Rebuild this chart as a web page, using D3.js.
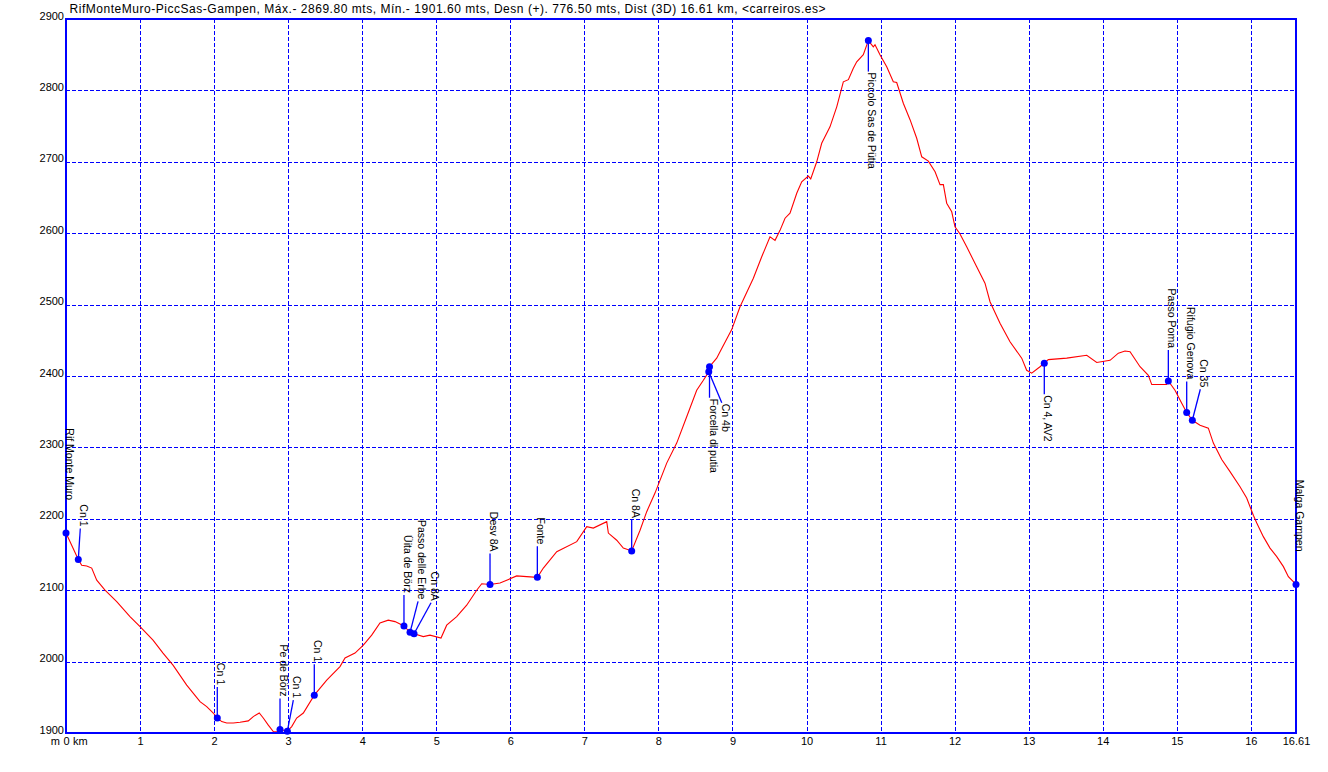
<!DOCTYPE html>
<html><head><meta charset="utf-8">
<script src="https://cdn.jsdelivr.net/npm/d3@7"></script>
<style>
body{margin:0;background:#fff}
svg{display:block}
text{font-family:"Liberation Sans",Arial,sans-serif;fill:#000}
</style>
</head><body>
<svg id="chart" width="1328" height="772"></svg>
<script>
// ---------------- DATA ----------------
const titleText = "RifMonteMuro-PiccSas-Gampen, Máx.- 2869.80 mts, Mín.- 1901.60 mts, Desn (+). 776.50 mts, Dist (3D) 16.61 km, <carreiros.es>";

const distKm = [0,0.166,0.212,0.280,0.347,0.415,0.527,0.685,0.864,1.000,1.175,1.310,1.445,1.630,1.810,1.900,1.989,2.043,2.103,2.170,2.259,2.350,2.462,2.529,2.610,2.664,2.732,2.799,2.853,2.890,2.989,3.048,3.115,3.205,3.353,
3.521,3.700,3.768,3.903,4.015,4.128,4.240,4.352,4.443,4.564,4.646,4.700,4.825,4.916,5.064,5.141,5.276,5.411,5.546,5.614,5.726,5.861,5.951,6.086,6.221,6.365,6.446,6.627,6.897,7.032,7.121,7.302,7.324,7.437,7.526,7.639,
7.752,7.842,7.954,8.112,8.247,8.382,8.517,8.607,8.680,8.690,8.787,8.832,8.990,9.102,9.282,9.395,9.507,9.575,9.642,9.710,9.777,9.868,9.935,10.024,10.057,10.138,10.205,10.317,10.408,10.497,10.565,10.632,10.678,10.767,10.835,
10.902,10.925,10.992,11.083,11.172,11.218,11.307,11.398,11.488,11.556,11.645,11.736,11.803,11.848,11.893,11.961,12.005,12.073,12.163,12.298,12.410,12.478,12.613,12.748,12.906,12.973,13.041,13.153,13.211,
13.265,13.514,13.784,13.919,14.099,14.211,14.301,14.369,14.504,14.616,14.662,14.864,14.886,14.976,15.067,15.134,15.210,15.314,15.426,15.494,15.607,15.719,15.854,15.944,16.034,16.080,16.169,16.259,16.350,16.440,16.507,16.61];

const elevM = [2180,2143,2135,2134,2131,2114,2100,2084,2063,2049,2030,2012,1995,1967,1944,1937,1928,1921,1916,1914,1914,1915,1917,1923,1928,1921,1911,1902,1901.6,1905,1902.5,1909,1921,1928,1953,
1974,1993,2005,2012,2023,2037,2054,2058,2056,2050,2041,2039,2035,2037,2033,2051,2063,2079,2100,2109,2108,2110,2114,2120,2119,2118,2131,2154,2168,2189,2187,2196,2180,2170,2159,2155,
2184,2210,2236,2278,2306,2343,2380,2394,2406,2413,2425,2434,2465,2497,2537,2567,2595,2590,2604,2621,2628,2656,2672,2680,2676,2700,2726,2749,2777,2812,2815,2831,2840,2850,2869.8,
2861,2864,2850,2833,2812,2811,2782,2759,2733,2707,2701,2686,2668,2668,2642,2630,2609,2599,2581,2553,2530,2504,2474,2448,2425,2408,2404,2413,2418,
2423,2425,2429,2419,2422,2432,2435,2434,2413,2401,2388,2388,2393,2380,2362,2349,2338,2331,2327,2306,2283,2266,2245,2229,2205,2194,2175,2159,2147,2133,2119,2108];

const wpNames = ["Rif Monte Muro","Cn 1","Cn 1","Pe de Börz","Cn 1","Cn 1","Üita de Börz","Passo delle Erbe","Cn 8A","Desv 8A","Fonte","Cn 8A","Cn 4b","Forcella di putia","Piccolo Sas de Pütia","Cn 4, AV2","Passo Poma","Rifugio Genova","Cn 35","Malga Gampen"];
const wpKm   = [0,0.166,2.043,2.890,2.989,3.353,4.564,4.646,4.700,5.726,6.365,7.639,8.680,8.690,10.835,13.211,14.886,15.134,15.210,16.61];
const wpElev = [2180,2143,1921,1905,1902.5,1953,2050,2041,2039,2108,2118,2155,2406,2413,2869.8,2418,2393,2349,2338,2108];

const yTicks = [1900,2000,2100,2200,2300,2400,2500,2600,2700,2800,2900];
const xTicks = [0,1,2,3,4,5,6,7,8,9,10,11,12,13,14,15,16,16.61];
const xTickLabels = ["0","1","2","3","4","5","6","7","8","9","10","11","12","13","14","15","16","16.61"];

// ---------------- LAYOUT ----------------
const W = 1328, H = 772;
const plot = {left:66, right:1296, top:19, bottom:733};
const labelSide = ["up","up","up","up","up","up","up","up","up","up","up","up","down","down","down","down","up","up","up","up"];
const labelDx   = [0,2,0,0,6,0,0,8,17,0,0,0,13,0,0,0,0,0,8,0];
const leaderLen = 31;
const BLUE = "#0000ff", RED = "#ff0000";

const svg = d3.select("#chart");
svg.append("rect").attr("width",W).attr("height",H).attr("fill","#fff");

const x = d3.scaleLinear().domain([0,16.61]).range([plot.left, plot.right]);
const y = d3.scaleLinear().domain([1900,2900]).range([plot.bottom, plot.top]);
const px = v => Math.round(v) + 0.5;

// grid
const grid = svg.append("g").attr("stroke",BLUE).attr("stroke-width",1).attr("stroke-dasharray","4,2").attr("shape-rendering","crispEdges");
grid.selectAll("line.v").data(xTicks.filter(d=>d>0 && d<16.61)).join("line")
  .attr("x1",d=>px(x(d))).attr("x2",d=>px(x(d))).attr("y1",y(2900)).attr("y2",y(1900));
grid.selectAll("line.h").data(yTicks.filter(d=>d>1900 && d<2900)).join("line")
  .attr("y1",d=>px(y(d))).attr("y2",d=>px(y(d))).attr("x1",x(0)).attr("x2",x(16.61));

// axes labels
const yAxis = d3.axisLeft(y).tickValues(yTicks).tickSize(0).tickPadding(2).tickFormat(d3.format("d"));
const gy = svg.append("g").attr("transform",`translate(${plot.left},0)`).call(yAxis);
gy.select(".domain").remove();
gy.selectAll("text").attr("dy","0").attr("font-size","11px").attr("font-family","Liberation Sans, Arial").attr("fill","#000");

const xAxis = d3.axisBottom(x).tickValues(xTicks).tickSize(0).tickPadding(4).tickFormat((d,i)=>xTickLabels[i]);
const gx = svg.append("g").attr("transform",`translate(0,${plot.bottom})`).call(xAxis);
gx.select(".domain").remove();
gx.selectAll("text").attr("dy","0.71em").attr("font-size","11px").attr("font-family","Liberation Sans, Arial").attr("fill","#000");
// "m" and "km" around the 0
gx.append("text").attr("x",x(0)-6).attr("y",4).attr("dy","0.71em").attr("text-anchor","end").attr("font-size","11px").text("m");
gx.append("text").attr("x",x(0)+7).attr("y",4).attr("dy","0.71em").attr("text-anchor","start").attr("font-size","11px").text("km");

// profile
const pts = distKm.map((d,i)=>[d, elevM[i]]);
const line = d3.line().x(d=>x(d[0])).y(d=>y(d[1]));
svg.append("path").datum(pts).attr("d",line).attr("fill","none").attr("stroke",RED).attr("stroke-width",1.1);

// frame
svg.append("rect").attr("x",x(0)).attr("y",y(2900)).attr("width",x(16.61)-x(0)).attr("height",y(1900)-y(2900))
  .attr("fill","none").attr("stroke",BLUE).attr("stroke-width",2);

// waypoints
const wps = wpNames.map((n,i)=>({name:n, km:wpKm[i], el:wpElev[i], side:labelSide[i], dx:labelDx[i]}));
const gw = svg.append("g");
wps.forEach(w=>{
  const cx = x(w.km), cy = y(w.el);
  const lx = cx + w.dx;
  const ly = w.side==="up" ? cy - leaderLen : cy + leaderLen;
  gw.append("line").attr("x1",cx).attr("y1",cy).attr("x2",lx).attr("y2",ly).attr("stroke",BLUE).attr("stroke-width",1.3);
  const ty = w.side==="up" ? ly - 2 : ly + 1;
  gw.append("text").attr("transform",`translate(${lx},${ty}) rotate(90)`)
    .attr("text-anchor", w.side==="up" ? "end" : "start")
    .attr("font-size","10.5px").text(w.name);
});
gw.selectAll("circle").data(wps).join("circle")
  .attr("cx",d=>x(d.km)).attr("cy",d=>y(d.el)).attr("r",3.5).attr("fill",BLUE);

// title
svg.append("text").attr("x",69.5).attr("y",12.5).attr("font-size","12px")
  .attr("textLength",756).attr("lengthAdjust","spacing").text(titleText);
</script>
</body></html>
